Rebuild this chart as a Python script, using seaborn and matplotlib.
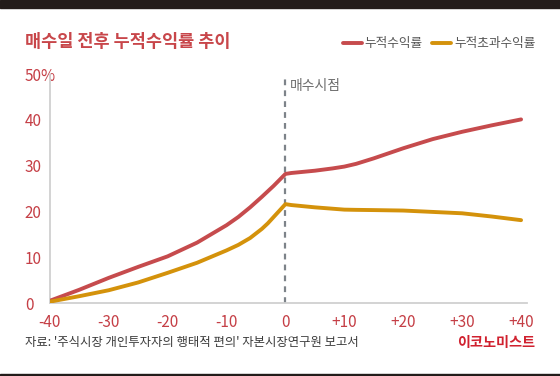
import matplotlib
matplotlib.use('Agg')
import matplotlib.pyplot as plt
from matplotlib.patches import Rectangle
import pandas as pd
import seaborn as sns

# 매수일 기준 경과일
days = [-40, -35, -30, -25, -20, -15, -10, -8, -6, -4, -3, -2, -1, 0,
        1, 5, 8, 10, 12, 15, 20, 25, 30, 35, 40]
# 누적수익률 (%)
cum_return = [0.5, 2.9, 5.5, 7.9, 10.2, 13.2, 17.0, 18.8, 20.9, 23.2, 24.4, 25.6, 26.9, 28.2,
              28.4, 28.9, 29.4, 29.8, 30.4, 31.6, 33.8, 35.8, 37.4, 38.8, 40.1]
# 누적초과수익률 (%)
excess_return = [0.3, 1.5, 2.8, 4.5, 6.6, 8.8, 11.5, 12.7, 14.2, 16.2, 17.4, 18.8, 20.2, 21.6,
                 21.4, 20.9, 20.6, 20.4, 20.35, 20.3, 20.2, 19.9, 19.6, 18.9, 18.1]

series_names = ['누적수익률', '누적초과수익률']
x_ticks = [-40, -30, -20, -10, 0, 10, 20, 30, 40]
x_labels = ['-40', '-30', '-20', '-10', '0', '+10', '+20', '+30', '+40']
y_ticks = [0, 10, 20, 30, 40, 50]
y_labels = ['0', '10', '20', '30', '40', '50%']

df = pd.DataFrame({'day': days * 2,
                   'value': cum_return + excess_return,
                   'series': [series_names[0]] * len(days) + [series_names[1]] * len(days)})

red = '#c64b4d'
orange = '#d4920b'
tick_red = '#c53f46'

sns.set_theme(style='white')
plt.rcParams['font.family'] = ['Noto Sans CJK KR', 'DejaVu Sans']

fig = plt.figure(figsize=(5.6, 3.76), dpi=100)
ax = fig.add_axes([0.089, 0.194, 0.852, 0.609])

ax.axvline(0, ymin=0, ymax=0.985, color='#7d8389', lw=1.6, ls=(0, (2.6, 2.3)), zorder=1)
sns.lineplot(data=df, x='day', y='value', hue='series', palette=[red, orange],
             linewidth=2.8, ax=ax, legend=False, zorder=3)

ax.set_xlim(-40, 41)
ax.set_ylim(0, 50)
ax.set_xticks(x_ticks)
ax.set_xticklabels(x_labels)
ax.set_yticks(y_ticks)
ax.set_yticklabels(y_labels)
ax.set_xlabel('')
ax.set_ylabel('')
ax.tick_params(axis='x', length=0, pad=8, labelsize=11, labelcolor=tick_red)
ax.tick_params(axis='y', length=0, pad=18, labelsize=11, labelcolor=tick_red)
for lab in ax.get_yticklabels():
    lab.set_horizontalalignment('left')

for s in ['top', 'right']:
    ax.spines[s].set_visible(False)
for s in ['left', 'bottom']:
    ax.spines[s].set_color('#d0d0d0')
    ax.spines[s].set_linewidth(1.3)

ax.annotate('매수시점', xy=(0, 47.3), xytext=(3.5, 0), textcoords='offset points',
            ha='left', va='center', fontsize=10, color='#6e6e6e')

# 제목과 범례
fig.text(0.045, 0.888, '매수일 전후 누적수익률 추이', fontsize=12.6, fontweight='bold',
         color='#c8464a', ha='left', va='center')
handles = [plt.Line2D([], [], color=red, lw=2.8), plt.Line2D([], [], color=orange, lw=2.8)]
fig.legend(handles, series_names, loc='center right', bbox_to_anchor=(0.956, 0.883),
           ncol=2, frameon=False, fontsize=9.1, handlelength=1.5, handletextpad=0.2,
           columnspacing=0.8, labelcolor='#555555', borderaxespad=0, borderpad=0)

# 출처
fig.text(0.045, 0.088, "자료: '주식시장 개인투자자의 행태적 편의' 자본시장연구원 보고서",
         fontsize=8.9, color='#3a3a3a', ha='left', va='center')
fig.text(0.955, 0.088, '이코노미스트', fontsize=10.2, fontweight='bold', color='#d0202e',
         ha='right', va='center')

# 위아래 어두운 띠
fig.patches.append(Rectangle((0, 1 - 8 / 376), 1, 8 / 376, transform=fig.transFigure,
                             color='#231c1a', zorder=0))
fig.patches.append(Rectangle((0, 0), 1, 2 / 376, transform=fig.transFigure,
                             color='#231c1a', zorder=0))

fig.savefig('out.png', dpi=100)
plt.close()
